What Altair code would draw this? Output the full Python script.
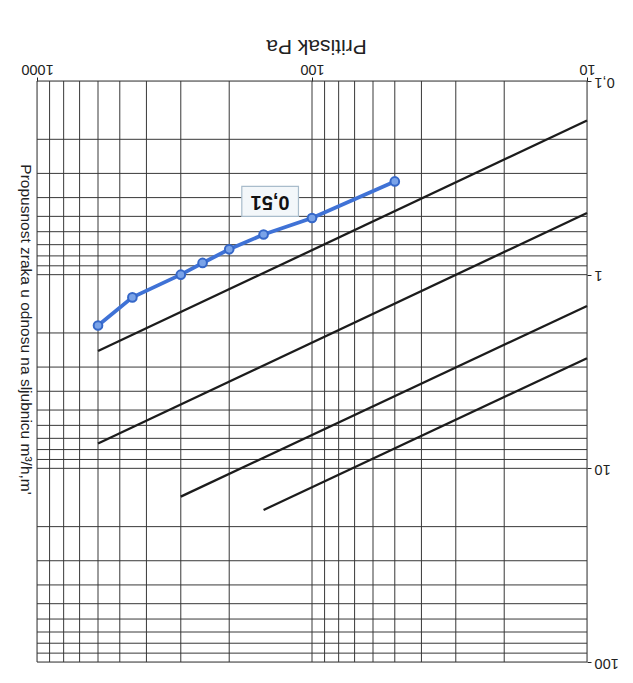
import altair as alt
import pandas as pd

# ---- data ----
pressure = [600, 450, 300, 250, 200, 150, 100, 50]          # Pa
flow = [1.83, 1.31, 1.0, 0.87, 0.74, 0.62, 0.51, 0.33]       # m3/h,m

class_names = ["k4", "k4", "k3", "k3", "k2", "k2", "k1", "k1"]
class_p = [10, 600, 10, 600, 10, 300, 10, 150]
class_q = [0.16, 2.48, 0.48, 7.45, 1.45, 14.0, 2.7, 16.4]

x_ticks = [10, 100, 1000]
y_ticks = [0.1, 1, 10, 100]
x_grid = [m * 10 ** e for e in (1, 2) for m in range(1, 10)] + [1000]
y_grid = [round(m * 10.0 ** e, 3) for e in (-1, 0, 1) for m in range(1, 10)] + [100]

label_text = ["0,51"]
label_p = [142]
label_q = [0.42]
box_p1, box_p2 = [112], [180]
box_q1, box_q2 = [0.35], [0.50]

FONT = "Liberation Sans"

df_series = pd.DataFrame({"p": pressure, "q": flow})
df_class = pd.DataFrame({"p": class_p, "q": class_q, "c": class_names})
df_xg = pd.DataFrame({"p": x_grid})
df_yg = pd.DataFrame({"q": y_grid})
df_lab = pd.DataFrame({"p": label_p, "q": label_q, "t": label_text})
df_box = pd.DataFrame({"p": box_p1, "p2": box_p2, "q": box_q1, "q2": box_q2})

xs = alt.Scale(type="log", domain=[10, 1000], reverse=True, nice=False)
ys = alt.Scale(type="log", domain=[0.1, 100], reverse=True, nice=False)

xaxis = alt.Axis(
    orient="top", values=x_ticks, grid=False, labelAngle=180,
    labelAlign="center", labelBaseline="top", labelPadding=2,
    labelFontSize=14.5, labelFlush=False, labelOverlap=False,
    labelExpr="format(datum.value, 'd')", labelColor="#222",
    tickSize=4, tickColor="#222", domain=False,
    title="Pritisak Pa", titleAngle=180, titleFontSize=21,
    titleFontWeight="normal", titleX=279, titleY=-36,
    titleAlign="center", titleBaseline="middle", titleColor="#222",
)
yaxis = alt.Axis(
    orient="right", values=y_ticks, grid=False, labelAngle=180,
    labelAlign="right", labelBaseline="middle", labelPadding=3,
    labelFontSize=14.5, labelFlush=False, labelOverlap=False,
    labelExpr="datum.value < 0.5 ? '0,1' : format(datum.value, 'd')",
    labelColor="#222", tickSize=4, tickColor="#222", domain=False,
    title="Propusnost zraka u odnosu na sljubnicu m³/h,m'",
    titleAngle=90, titleFontSize=15.5, titleFontWeight="normal",
    titleX=-562, titleY=248, titleAlign="center", titleBaseline="middle",
    titleColor="#222",
)

X = alt.X("p:Q", scale=xs, axis=xaxis)
Y = alt.Y("q:Q", scale=ys, axis=yaxis)

grid_v = alt.Chart(df_xg).mark_rule(color="#383838", strokeWidth=1).encode(x=X)
grid_h = alt.Chart(df_yg).mark_rule(color="#383838", strokeWidth=1).encode(y=Y)

class_lines = alt.Chart(df_class).mark_line(color="#1c1c1c", strokeWidth=2.3).encode(
    x=X, y=Y, detail="c:N"
)

series_line = alt.Chart(df_series).mark_line(color="#3f72d6", strokeWidth=3.8).encode(
    x=X, y=Y, order=alt.Order("p:Q")
)
series_pts = alt.Chart(df_series).mark_point(
    shape="circle", filled=True, size=75, fill="#7aa3e8", stroke="#3567c8",
    strokeWidth=2, opacity=1
).encode(x=X, y=Y)

box = alt.Chart(df_box).mark_rect(
    fill="#f3f7fa", stroke="#a9bccb", strokeWidth=1.2
).encode(x=X, x2="p2:Q", y=Y, y2="q2:Q")

label = alt.Chart(df_lab).mark_text(
    angle=180, fontSize=20, fontWeight="bold", color="#111", font=FONT,
    align="center", baseline="middle"
).encode(x=X, y=Y, text="t:N")

chart = alt.layer(
    grid_v, grid_h, class_lines, series_line, series_pts, box, label
).properties(
    width=550, height=581,
    autosize=alt.AutoSizeParams(type="none"),
    padding={"left": 29, "top": 73, "right": 38, "bottom": 13},
).configure_view(
    stroke="#1e1e1e", strokeWidth=1.5
).configure(
    font=FONT, background="white"
)

chart.save("out.html", embed_options={"renderer": "svg", "actions": False})
